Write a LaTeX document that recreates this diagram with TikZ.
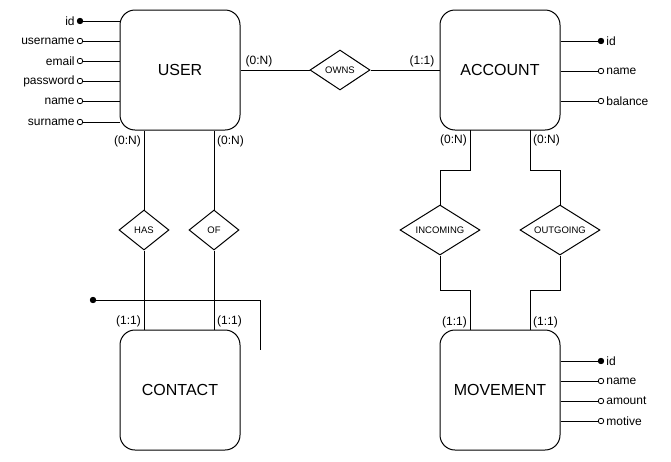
\documentclass[tikz,border=0pt]{standalone}
\usepackage{fontspec}
\setmainfont{Liberation Sans}
\usetikzlibrary{positioning,shapes.geometric}
\tikzset{
  entity/.style={
    draw,
    line width=1pt,
    rounded corners=15pt,
    minimum width=120pt,
    minimum height=120pt,
    font=\fontsize{16}{18}\selectfont,
  },
  relation/.style={
    draw,
    diamond,
    line width=1pt,
    inner sep=0pt,
    aspect=#1,
    font=\fontsize{9.5}{11}\selectfont,
  },
  key attr/.style={
    circle,
    fill=black,
    draw,
    line width=0.8pt,
    inner sep=0pt,
    minimum size=5.5pt,
  },
  attr/.style={
    circle,
    fill=white,
    draw,
    line width=0.8pt,
    inner sep=0pt,
    minimum size=5.5pt,
  },
  attr label/.style={
    font=\fontsize{12}{14}\selectfont,
    inner sep=2pt,
  },
  card/.style={
    font=\fontsize{12}{14}\selectfont,
    inner sep=1pt,
  },
  link/.style={
    line width=1pt,
  }
}

\begin{document}
\begin{tikzpicture}[x=1pt, y=-1pt]
    \useasboundingbox (0,0) rectangle (671,461);

    % entities
    \node [entity] (user) at (180,70) {USER};
    \node [entity] (account) at (500,70) {ACCOUNT};
    \node [entity] (contact) at (180,390) {CONTACT};
    \node [entity] (movement) at (500,390) {MOVEMENT};

    % relations
    \node [relation=1.5, minimum width=60pt, minimum height=40pt] (owns) at (340,70) {OWNS};
    \node [relation=1.25, minimum width=50pt, minimum height=40pt] (has) at (144,230) {HAS};
    \node [relation=1.25, minimum width=50pt, minimum height=40pt] (of) at (214,230) {OF};
    \node [relation=1.6, minimum width=80pt, minimum height=50pt] (incoming) at (440,230) {INCOMING};
    \node [relation=1.6, minimum width=80pt, minimum height=50pt] (outgoing) at (560,230) {OUTGOING};

    % user attributes
    \node [key attr, label={[attr label]left:id}] (user-id) at (80,21) {};
    \node [attr, label={[attr label]left:username}] (user-username) at (80,41) {};
    \node [attr, label={[attr label]left:email}] (user-email) at (80,61) {};
    \node [attr, label={[attr label]left:password}] (user-password) at (80,81) {};
    \node [attr, label={[attr label]left:name}] (user-name) at (80,101) {};
    \node [attr, label={[attr label]left:surname}] (user-surname) at (80,122) {};
    \foreach \a in {id,username,email,password,name,surname}
        \draw [link] (user-\a) -- (user-\a -| user.west);

    % account attributes
    \node [key attr, label={[attr label]right:id}] (account-id) at (601,41) {};
    \node [attr, label={[attr label]right:name}] (account-name) at (601,71) {};
    \node [attr, label={[attr label]right:balance}] (account-balance) at (601,101) {};
    \foreach \a in {id,name,balance}
        \draw [link] (account-\a) -- (account-\a -| account.east);

    % movement attributes
    \node [key attr, label={[attr label]right:id}] (movement-id) at (601,361) {};
    \node [attr, label={[attr label]right:name}] (movement-name) at (601,381) {};
    \node [attr, label={[attr label]right:amount}] (movement-amount) at (601,401) {};
    \node [attr, label={[attr label]right:motive}] (movement-motive) at (601,421) {};
    \foreach \a in {id,name,amount,motive}
        \draw [link] (movement-\a) -- (movement-\a -| movement.east);

    % user -- account
    \draw [link] (user) -- (owns) -- (account);
    \node [card, anchor=south west] at ([xshift=4pt, yshift=2pt]user.east) {(0:N)};
    \node [card, anchor=south east] at ([xshift=-4pt, yshift=2pt]account.west) {(1:1)};

    % user -- contact
    \draw [link] (has.north) -- (has.north |- user.south);
    \draw [link] (has.south) -- (has.south |- contact.north);
    \draw [link] (of.north) -- (of.north |- user.south);
    \draw [link] (of.south) -- (of.south |- contact.north);
    \node [card, anchor=north east] at ([xshift=-2pt, yshift=-4pt]has.north |- user.south) {(0:N)};
    \node [card, anchor=north west] at ([xshift=2pt, yshift=-4pt]of.north |- user.south) {(0:N)};
    \node [card, anchor=south east] at ([xshift=-2pt, yshift=1pt]has.south |- contact.north) {(1:1)};
    \node [card, anchor=south west] at ([xshift=2pt, yshift=1pt]of.south |- contact.north) {(1:1)};

    % loose edge
    \node [key attr] (loose) at (93,300) {};
    \coordinate (loose-end) at (260,350);
    \draw [link] (loose) -| (loose-end);

    % account -- movement
    \coordinate (acc-in) at (470,130);
    \coordinate (acc-out) at (530,130);
    \coordinate (mov-in) at (470,330);
    \coordinate (mov-out) at (530,330);
    \draw [link] (acc-in) -- (470,170) -| (incoming.north);
    \draw [link] (incoming.south) |- (470,290) -- (mov-in);
    \draw [link] (acc-out) -- (530,170) -| (outgoing.north);
    \draw [link] (outgoing.south) |- (530,290) -- (mov-out);
    \node [card, anchor=north east] at ([xshift=-2pt, yshift=-4pt]acc-in) {(0:N)};
    \node [card, anchor=north west] at ([xshift=2pt, yshift=-4pt]acc-out) {(0:N)};
    \node [card, anchor=south east] at ([xshift=-2pt, yshift=1pt]mov-in) {(1:1)};
    \node [card, anchor=south west] at ([xshift=2pt, yshift=1pt]mov-out) {(1:1)};
\end{tikzpicture}
\end{document}
